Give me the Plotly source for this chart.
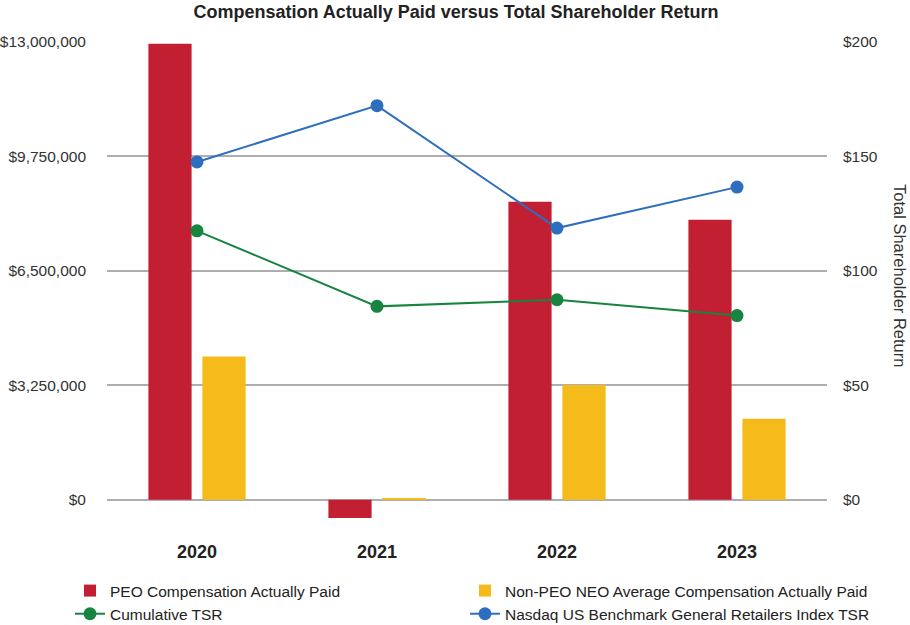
import plotly.graph_objects as go

years = ["2020", "2021", "2022", "2023"]
peo_cap = [12950000, -520000, 8460000, 7950000]
neo_cap = [4070000, 30000, 3260000, 2300000]
cum_tsr = [117.5, 84.5, 87.4, 80.5]
nasdaq_tsr = [147.6, 172.2, 118.7, 136.6]

left_ticks = [0, 3250000, 6500000, 9750000, 13000000]
left_ticktext = ["$0", "$3,250,000", "$6,500,000", "$9,750,000", "$13,000,000"]
right_ticks = [0, 50, 100, 150, 200]
right_ticktext = ["$0", "$50", "$100", "$150", "$200"]

RED = "#C21F33"
YELLOW = "#F4BB1A"
GREEN = "#17843F"
BLUE = "#2E6EBF"
FONT = "Liberation Sans, Arial, sans-serif"

fig = go.Figure()
fig.add_trace(go.Bar(x=years, y=peo_cap, name="PEO Compensation Actually Paid",
                     marker=dict(color=RED, line=dict(width=0)), legend="legend"))
fig.add_trace(go.Bar(x=years, y=neo_cap, name="Non-PEO NEO Average Compensation Actually Paid",
                     marker=dict(color=YELLOW, line=dict(width=0)), legend="legend2"))
fig.add_trace(go.Scatter(x=years, y=cum_tsr, name="Cumulative TSR", yaxis="y2",
                         mode="lines+markers", line=dict(color=GREEN, width=2),
                         marker=dict(color=GREEN, size=13), legend="legend"))
fig.add_trace(go.Scatter(x=years, y=nasdaq_tsr, name="Nasdaq US Benchmark General Retailers Index TSR",
                         yaxis="y2", mode="lines+markers", line=dict(color=BLUE, width=2),
                         marker=dict(color=BLUE, size=13), legend="legend2"))

ymin_l = -1000000
ymin_r = 200 * ymin_l / 13000000

legend_common = dict(orientation="v", xref="container", yref="container",
                     xanchor="left", yanchor="top", y=1 - 574 / 625,
                     font=dict(size=15.5, color="#222222"), bgcolor="rgba(0,0,0,0)",
                     borderwidth=0, tracegroupgap=0)

fig.update_layout(
    width=910, height=625,
    margin=dict(l=107, r=83, t=42, b=90, autoexpand=False),
    paper_bgcolor="white", plot_bgcolor="white",
    font=dict(family=FONT, size=15.5, color="#333333"),
    title=dict(text="<b>Compensation Actually Paid versus Total Shareholder Return</b>",
               x=456 / 910, xref="container", xanchor="center",
               y=1 - 12 / 625, yref="container", yanchor="middle",
               font=dict(family=FONT, size=18, color="#222222")),
    barmode="group", bargap=0.4, bargroupgap=0.2,
    xaxis=dict(type="category", range=[-0.5, 3.5], showgrid=False, zeroline=False,
               showline=False, ticks="", tickfont=dict(size=18, color="#222222", family=FONT),
               tickprefix="<b>", ticksuffix="</b>", ticklabelstandoff=4, automargin=False),
    yaxis=dict(range=[ymin_l, 13000000], tickvals=left_ticks, ticktext=left_ticktext,
               showgrid=True, gridcolor="#AEAEAE", gridwidth=1.5, zeroline=False,
               showline=False, ticks="", ticklabelstandoff=20, automargin=False),
    yaxis2=dict(range=[ymin_r, 200], tickvals=right_ticks, ticktext=right_ticktext,
                overlaying="y", side="right", showgrid=False, zeroline=False,
                showline=False, ticks="", ticklabelstandoff=15, automargin=False),
    legend=dict(legend_common, x=70 / 910),
    legend2=dict(legend_common, x=465 / 910),
    annotations=[dict(text="Total Shareholder Return", textangle=90,
                      x=(900 - 107) / 720, xref="paper", y=(535 - 275) / 493, yref="paper",
                      xanchor="center", yanchor="middle", showarrow=False,
                      font=dict(size=16.5, color="#333333"))],
)

fig.write_html("out.html", config={"displayModeBar": False},
               post_script="document.body.style.margin='0';")
